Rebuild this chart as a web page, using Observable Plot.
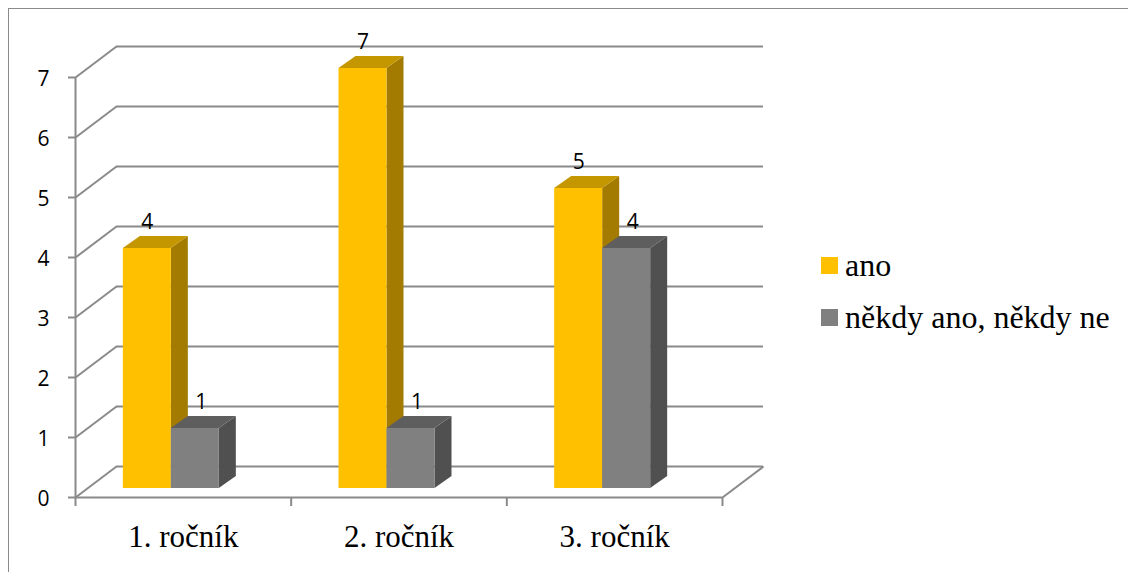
<!DOCTYPE html>
<html>
<head>
<meta charset="utf-8">
<script src="https://cdn.jsdelivr.net/npm/d3@7"></script>
<script src="https://cdn.jsdelivr.net/npm/@observablehq/plot@0.6"></script>
<style>
  html, body { margin: 0; padding: 0; background: #fff; overflow: hidden; }
  #wrap { position: relative; width: 1128px; height: 572px; overflow: hidden; }
  #frame { position: absolute; left: 8px; top: 8px; width: 1300px; height: 800px;
           border-top: 1.5px solid #8a8a8a; border-left: 1.5px solid #8a8a8a; }
  #chart { position: absolute; left: 0; top: 0; }
  #legend { position: absolute; left: 821px; top: 0; font-family: "Liberation Serif", "Times New Roman", serif;
            font-size: 32px; color: #000; }
  .row { position: absolute; left: 0; white-space: nowrap; display: flex; align-items: center; }
  .sw { width: 17px; height: 17px; margin-right: 7px; }
</style>
</head>
<body>
<div id="wrap">
  <div id="frame"></div>
  <div id="chart"></div>
  <div id="legend"></div>
</div>
<script>
// Survey answers per school year
const categories = ["1. ročník", "2. ročník", "3. ročník"];
const seriesNames = ["ano", "někdy ano, někdy ne"];
const ano = [4, 7, 5];
const nekdy = [1, 1, 4];
const yTicks = [0, 1, 2, 3, 4, 5, 6, 7];

// Face shades for the pseudo-3D columns
const frontColors = ["#FFC000", "#808080"];
const topColors = ["#C49700", "#5E5E5E"];
const sideColors = ["#A37B00", "#505050"];
const gridColor = "#8a8a8a";

// Plot frame in pixels and derived unit sizes
const W = 1128, H = 572;
const FRAME = {left: 75, right: 722, top: 77, bottom: 497};
const yMax = 7;
const ux = (FRAME.right - FRAME.left) / categories.length;
const uy = (FRAME.bottom - FRAME.top) / yMax;
const px = p => p / ux;   // pixel offset -> x units
const py = p => p / uy;   // pixel offset -> y units (upward)

// Perspective: back wall depth, column depth, column placement
const WALL_DX = px(41), WALL_DY = py(31);
const BAR_DX = px(17), BAR_DY = py(12);
const BAR_LIFT = py(9);
const BAR_W = px(48);
const CLUSTER_LEFT = px(-60);
const LABEL_SHIFT = [px(0), px(6)];

const values = [ano, nekdy];
const bars = [];
categories.forEach((c, i) => {
  values.forEach((vals, j) => {
    const xl = i + 0.5 + CLUSTER_LEFT + j * BAR_W;
    bars.push({cat: c, s: j, value: vals[i], xl, xr: xl + BAR_W, base: BAR_LIFT, top: vals[i] + BAR_LIFT});
  });
});

function sideRows(s) {
  return bars.filter(b => b.s === s).flatMap(b => [
    {id: b.cat, x: b.xr, y1: b.base, y2: b.top},
    {id: b.cat, x: b.xr + BAR_DX, y1: b.base + BAR_DY, y2: b.top + BAR_DY}
  ]);
}
function topRows(s) {
  return bars.filter(b => b.s === s).flatMap(b => [
    {id: b.cat, y: b.top, x1: b.xl, x2: b.xr},
    {id: b.cat, y: b.top + BAR_DY, x1: b.xl + BAR_DX, x2: b.xr + BAR_DX}
  ]);
}

function seriesMarks(s) {
  const rows = bars.filter(b => b.s === s);
  return [
    Plot.areaY(sideRows(s), {x: "x", y1: "y1", y2: "y2", z: "id", fill: sideColors[s], curve: "linear"}),
    Plot.areaX(topRows(s), {y: "y", x1: "x1", x2: "x2", z: "id", fill: topColors[s], curve: "linear"}),
    Plot.rect(rows, {x1: "xl", x2: "xr", y1: "base", y2: "top", fill: frontColors[s], inset: 0})
  ];
}

const labelFont = '"Open Sans", "Liberation Sans", sans-serif';

const chart = Plot.plot({
  width: W,
  height: H,
  marginLeft: FRAME.left,
  marginRight: W - FRAME.right,
  marginTop: FRAME.top,
  marginBottom: H - FRAME.bottom,
  x: {domain: [0, categories.length], axis: null},
  y: {domain: [0, yMax], axis: null},
  style: {background: "transparent", overflow: "visible"},
  marks: [
    // back wall gridlines
    Plot.ruleY(yTicks, {y: d => d + WALL_DY, x1: WALL_DX, x2: categories.length + WALL_DX, stroke: gridColor, strokeWidth: 2}),
    // side wall diagonals
    Plot.link(yTicks, {x1: 0, y1: d => d, x2: WALL_DX, y2: d => d + WALL_DY, stroke: gridColor, strokeWidth: 2}),
    // floor edges
    Plot.link([0], {x1: categories.length, y1: 0, x2: categories.length + WALL_DX, y2: WALL_DY, stroke: gridColor, strokeWidth: 2}),
    Plot.ruleY([0], {x1: 0, x2: categories.length, stroke: gridColor, strokeWidth: 2}),
    // value axis
    Plot.ruleX([0], {y1: 0, y2: yMax, stroke: gridColor, strokeWidth: 2}),
    Plot.ruleY(yTicks, {x1: px(-7), x2: 0, stroke: gridColor, strokeWidth: 2}),
    Plot.text(yTicks, {x: px(-32), y: d => d, text: d => String(d), fontSize: 21, fontFamily: labelFont, fill: "#000", dy: 2}),
    // category axis ticks and labels
    Plot.ruleX(d3.range(categories.length + 1), {y1: 0, y2: py(-9), stroke: gridColor, strokeWidth: 2}),
    Plot.text(categories, {x: (d, i) => i + 0.5, y: py(-40), text: d => d, fontSize: 31,
      fontFamily: '"Liberation Serif", "Times New Roman", serif', fill: "#000"}),
    // columns
    ...seriesMarks(0),
    ...seriesMarks(1),
    // value labels
    Plot.text(bars, {x: b => (b.xl + b.xr) / 2 + LABEL_SHIFT[b.s], y: b => b.top + BAR_DY, text: b => String(b.value),
      fontSize: 21, fontFamily: labelFont, fill: "#000", dy: -14})
  ]
});
document.getElementById("chart").appendChild(chart);

// legend
const legend = document.getElementById("legend");
const legendTops = [247, 299];
seriesNames.forEach((name, j) => {
  const row = document.createElement("div");
  row.className = "row";
  row.style.top = legendTops[j] + "px";
  const sw = document.createElement("span");
  sw.className = "sw";
  sw.style.background = frontColors[j];
  const label = document.createElement("span");
  label.textContent = name;
  row.appendChild(sw);
  row.appendChild(label);
  legend.appendChild(row);
});
</script>
</body>
</html>
